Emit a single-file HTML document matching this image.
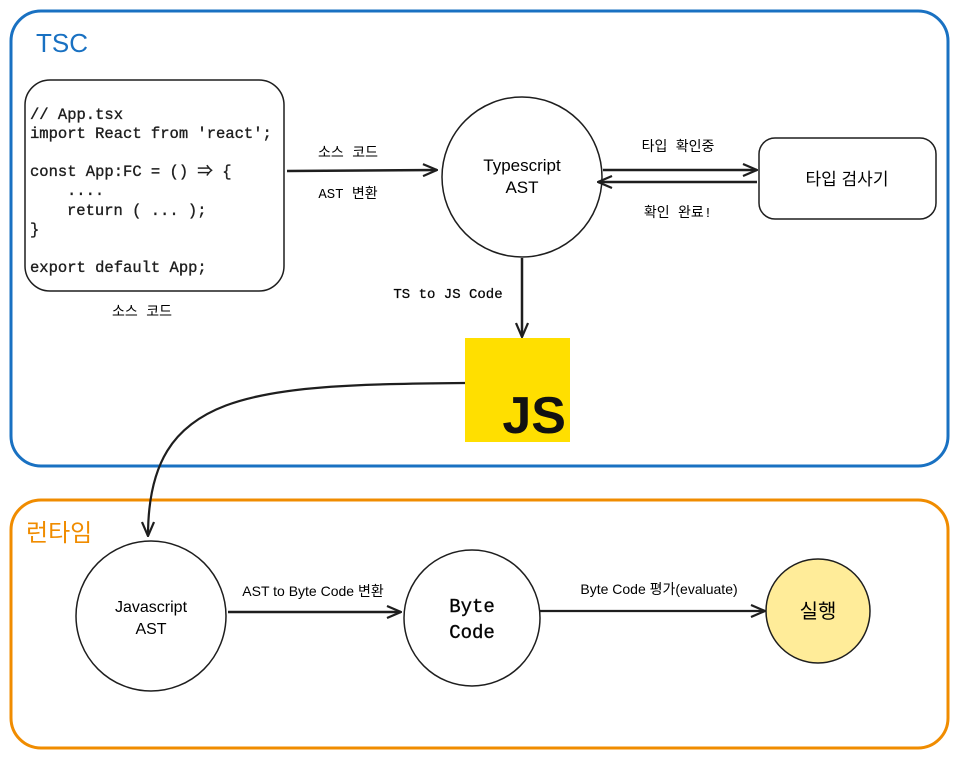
<!DOCTYPE html>
<html><head><meta charset="utf-8"><style>
html,body{margin:0;padding:0;background:#fff;}
svg text{font-family:"Liberation Sans","Noto Sans CJK KR",sans-serif;}
.m{font-family:"Liberation Mono","Noto Sans CJK KR",monospace !important;}
</style></head><body>
<svg width="962" height="758" viewBox="0 0 962 758" xmlns="http://www.w3.org/2000/svg">
<defs>
<marker id="a" markerWidth="16" markerHeight="14" refX="15" refY="7" orient="auto" markerUnits="userSpaceOnUse">
<path d="M1,1 L15,7 L1,13" fill="none" stroke="#1e1e1e" stroke-width="2.2"/>
</marker>
</defs>
<rect x="11" y="11" width="937" height="455" rx="30" fill="none" stroke="#1971c2" stroke-width="3"/>
<text x="36" y="52" font-size="26" fill="#1971c2">TSC</text>
<rect x="11" y="500" width="937" height="248" rx="30" fill="none" stroke="#f08c00" stroke-width="3"/>
<text x="26" y="541" font-size="24" fill="#f08c00">런타임</text>

<rect x="25" y="80" width="259" height="211" rx="25" fill="none" stroke="#1e1e1e" stroke-width="1.5"/>
<g font-size="15.5" fill="#1e1e1e" stroke="#1e1e1e" stroke-width="0.35">
<text class="m" x="30" y="119">// App.tsx</text>
<text class="m" x="30" y="138">import React from 'react';</text>
<text class="m" x="30" y="176">const App:FC = () ⇒ {</text>
<text class="m" x="67" y="195">....</text>
<text class="m" x="67" y="215">return ( ... );</text>
<text class="m" x="30" y="234">}</text>
<text class="m" x="30" y="272">export default App;</text>
</g>
<text class="m" x="142" y="316" font-size="14" text-anchor="middle">소스 코드</text>

<line x1="287" y1="171" x2="437" y2="170" stroke="#1e1e1e" stroke-width="2.5" marker-end="url(#a)"/>
<text class="m" x="348" y="157" font-size="14" text-anchor="middle">소스 코드</text>
<text class="m" x="348" y="198" font-size="14" text-anchor="middle">AST 변환</text>

<circle cx="522" cy="177" r="80" fill="none" stroke="#1e1e1e" stroke-width="1.5"/>
<text x="522" y="171" font-size="17" text-anchor="middle">Typescript</text>
<text x="522" y="193" font-size="17" text-anchor="middle">AST</text>

<line x1="603" y1="170" x2="757" y2="170" stroke="#1e1e1e" stroke-width="2.5" marker-end="url(#a)"/>
<line x1="757" y1="182" x2="598" y2="182" stroke="#1e1e1e" stroke-width="2.5" marker-end="url(#a)"/>
<text class="m" x="678" y="151" font-size="14" text-anchor="middle">타입 확인중</text>
<text class="m" x="678" y="217" font-size="14" text-anchor="middle">확인 완료!</text>
<rect x="759" y="138" width="177" height="81" rx="16" fill="none" stroke="#1e1e1e" stroke-width="1.5"/>
<text x="847" y="185" font-size="17" text-anchor="middle">타입 검사기</text>

<line x1="522" y1="258" x2="522" y2="337" stroke="#1e1e1e" stroke-width="2.5" marker-end="url(#a)"/>
<text class="m" x="448" y="298" font-size="14" text-anchor="middle" stroke="#1e1e1e" stroke-width="0.3">TS to JS Code</text>

<rect x="465" y="338" width="105" height="104" fill="#ffdf00"/>
<text x="566" y="433" font-size="52" font-weight="bold" text-anchor="end" fill="#111">JS</text>

<path d="M465,383 C250,385 148,390 148,536" fill="none" stroke="#1e1e1e" stroke-width="2.2" marker-end="url(#a)"/>

<circle cx="151" cy="616" r="75" fill="none" stroke="#1e1e1e" stroke-width="1.5"/>
<text x="151" y="612" font-size="16" text-anchor="middle">Javascript</text>
<text x="151" y="634" font-size="16" text-anchor="middle">AST</text>

<line x1="228" y1="612" x2="401" y2="612" stroke="#1e1e1e" stroke-width="2.5" marker-end="url(#a)"/>
<text x="313" y="596" font-size="14" text-anchor="middle">AST to Byte Code 변환</text>

<circle cx="472" cy="618" r="68" fill="none" stroke="#1e1e1e" stroke-width="1.5"/>
<text class="m" x="472" y="612" font-size="19" text-anchor="middle" stroke="#1e1e1e" stroke-width="0.4">Byte</text>
<text class="m" x="472" y="638" font-size="19" text-anchor="middle" stroke="#1e1e1e" stroke-width="0.4">Code</text>

<line x1="540" y1="611" x2="765" y2="611" stroke="#1e1e1e" stroke-width="2.2" marker-end="url(#a)"/>
<text x="659" y="594" font-size="14" text-anchor="middle">Byte Code 평가(evaluate)</text>

<circle cx="818" cy="611" r="52" fill="#ffec99" stroke="#1e1e1e" stroke-width="1.5"/>
<text x="818" y="618" font-size="20" text-anchor="middle">실행</text>
</svg>
</body></html>
